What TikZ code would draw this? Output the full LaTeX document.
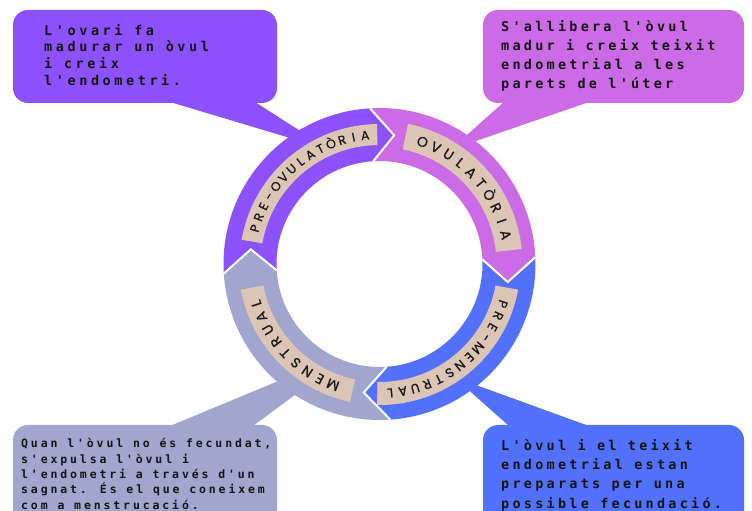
\documentclass[tikz,border=0pt]{standalone}
\usepackage{fontspec}
\setmainfont{Poppins}
\newfontfamily\boxfontA{DejaVu Sans Mono}[LetterSpace=24]
\newfontfamily\boxfontC{DejaVu Sans Mono}[LetterSpace=26.5]
\newfontfamily\boxfontB{DejaVu Sans Mono}[LetterSpace=25]
\newfontfamily\ringfont{Poppins}[FakeBold=0.8]
\definecolor{cpre}{HTML}{8C52FF}
\definecolor{covu}{HTML}{CB6CE6}
\definecolor{cpmn}{HTML}{5271FF}
\definecolor{cmen}{HTML}{A0A6CD}
\definecolor{cband}{HTML}{DCC5B4}
\definecolor{ctxt}{HTML}{151515}
\definecolor{cring}{HTML}{1A1A1A}
\tikzset{
  boxshape/.style={rounded corners=15pt},
  boxtxt/.style={anchor=north west, inner sep=0pt, align=left, text=ctxt},
  ringtxt/.style={anchor=base, inner sep=0pt, text=cring},
  junction/.style={draw=white, line width=2pt, line join=miter},
}
\newcommand\topstrut{\rule{0pt}{12pt}}
\newcommand\myringword[5]{%
  \foreach \ch [count=\i from 0] in {#3} {%
    \pgfmathsetmacro\ang{#1-\i*#2}%
    \pgfmathsetmacro\rad{129.5-0.35*#4}%
    \node[ringtxt, font=\ringfont\fontsize{#4}{#4}\selectfont, rotate=\ang-90] (#5\i) at (\ang:\rad) {\ch};
  }}
\begin{document}
\begin{tikzpicture}[x=1pt,y=1pt]
\useasboundingbox (0,0) rectangle (752,511);
\clip (0,0) rectangle (752,511);
% callout boxes and pointers
\fill[cpre, boxshape] (13,408) rectangle (277,501);
\fill[cpre] (170,409) -- (255,409) -- (330,361) -- cycle;
\fill[covu, boxshape] (483,408) rectangle (744,501);
\fill[covu] (504,409) -- (589,409) -- (450,361) -- cycle;
\fill[cmen, boxshape] (13,-30) rectangle (277,86);
\fill[cmen] (170,85) -- (253,85) -- (315,131) -- (300,139) -- cycle;
\fill[cpmn, boxshape] (483,-30) rectangle (744,86);
\fill[cpmn] (509,85) -- (589,85) -- (454,134) -- cycle;
% ring
\begin{scope}[shift={(379.5,247)}]
  \fill[cpre] (183.5:156) arc[start angle=183.5, end angle=93.5, radius=156] -- (83.5:129.5) -- (93.5:103) arc[start angle=93.5, end angle=183.5, radius=103] -- (173.5:129.5) -- cycle;
  \fill[covu] (93.5:156) arc[start angle=93.5, end angle=2.5, radius=156] -- (-8:129.5) -- (2.5:103) arc[start angle=2.5, end angle=93.5, radius=103] -- (83.5:129.5) -- cycle;
  \fill[cpmn] (2.5:156) arc[start angle=2.5, end angle=-86, radius=156] -- (-97:129.5) -- (-86:103) arc[start angle=-86, end angle=2.5, radius=103] -- (-8:129.5) -- cycle;
  \fill[cmen] (-86:156) arc[start angle=-86, end angle=-176.5, radius=156] -- (-186.5:129.5) -- (-176.5:103) arc[start angle=-176.5, end angle=-86, radius=103] -- (-97:129.5) -- cycle;
  % junction separators
  \draw[junction] (93.5:156) -- (83.5:129.5) -- (93.5:103);
  \draw[junction] (2.5:156) -- (-8:129.5) -- (2.5:103);
  \draw[junction] (-86:156) -- (-97:129.5) -- (-86:103);
  \draw[junction] (183.5:156) -- (173.5:129.5) -- (183.5:103);
  % label bands
  \fill[cband] (170:140) arc[start angle=170, end angle=91, radius=140] -- (91:119) arc[start angle=91, end angle=170, radius=119] -- cycle;
  \fill[cband] (78.5:143) arc[start angle=78.5, end angle=6, radius=143] -- (6:117) arc[start angle=6, end angle=78.5, radius=117] -- cycle;
  \fill[cband] (-10.5:141) arc[start angle=-10.5, end angle=-91, radius=141] -- (-91:118) arc[start angle=-91, end angle=-10.5, radius=118] -- cycle;
  \fill[cband] (258:141) arc[start angle=258, end angle=190.5, radius=141] -- (190.5:118) arc[start angle=190.5, end angle=258, radius=118] -- cycle;
  % ring words
  \myringword{164}{5.2}{P,R,E,-,O,V,U,L,A,T,Ò,R,I,A}{12.5}{po}
  \myringword{70.6}{6.4}{O,V,U,L,A,T,Ò,R,I,A}{14}{ov}
  \myringword{-18}{5.6}{P,R,E,-,M,E,N,S,T,R,U,A,L}{13}{pm}
  \myringword{248.9}{6.4}{M,E,N,S,T,R,U,A,L}{14}{me}
\end{scope}
% box texts
\node[boxtxt, font=\boxfontC\bfseries\fontsize{13.5}{16.7}\selectfont] (t1) at (44,488.1) {\topstrut L'ovari fa\\madurar un òvul\\i creix\\l'endometri.};
\node[boxtxt, font=\boxfontA\bfseries\fontsize{13.5}{18.9}\selectfont] (t2) at (501,491.4) {\topstrut S'allibera l'òvul\\madur i creix teixit\\endometrial a les\\parets de l'úter};
\node[boxtxt, font=\boxfontB\bfseries\fontsize{11.5}{15.4}\selectfont] (t3) at (21,75.5) {\topstrut Quan l'òvul no és fecundat,\\s'expulsa l'òvul i\\l'endometri a través d'un\\sagnat. És el que coneixem\\com a menstrucació.};
\node[boxtxt, font=\boxfontA\bfseries\fontsize{13.5}{19.4}\selectfont] (t4) at (501,73.1) {\topstrut L'òvul i el teixit\\endometrial estan\\preparats per una\\possible fecundació.};
\end{tikzpicture}
\end{document}
